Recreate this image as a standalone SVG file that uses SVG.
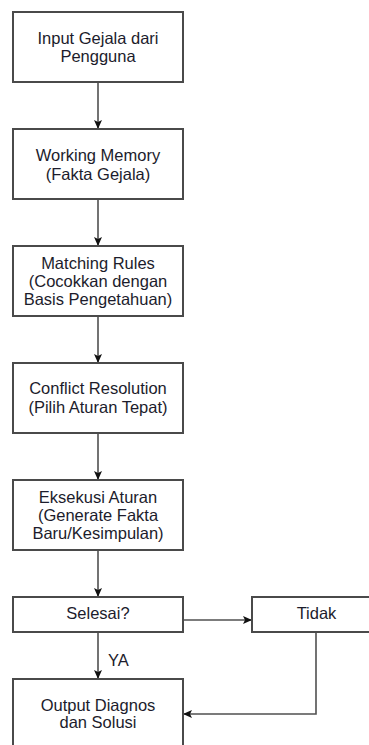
<svg xmlns="http://www.w3.org/2000/svg" width="369" height="745" viewBox="0 0 369 745">
<style>
.box{fill:#fff;stroke:#4a4a4a;stroke-width:2}
.t{font-family:"Liberation Sans",Arial,sans-serif;font-size:16.5px;fill:#1c1c2c;text-anchor:middle}
.c{fill:none;stroke:#505050;stroke-width:1.6}
</style>
<defs>
<marker id="arr" markerUnits="userSpaceOnUse" markerWidth="10" markerHeight="10" viewBox="0 0 10 10" refX="9" refY="5" orient="auto">
<path d="M0,1 L9,5 L0,9 L2,5 z" fill="#111"/>
</marker>
</defs>
<rect width="369" height="745" fill="#fff"/>
<g id="connectors">
<path class="c" d="M98,82 V129" marker-end="url(#arr)"/>
<path class="c" d="M98,199 V246" marker-end="url(#arr)"/>
<path class="c" d="M98,316 V363" marker-end="url(#arr)"/>
<path class="c" d="M98,433 V480" marker-end="url(#arr)"/>
<path class="c" d="M98,550 V597" marker-end="url(#arr)"/>
<path class="c" d="M183,620 H252" marker-end="url(#arr)"/>
<path class="c" d="M98,632 V679" marker-end="url(#arr)"/>
<path class="c" d="M316,632 V714 H183" marker-end="url(#arr)"/>
<text class="t" x="108" y="666" style="text-anchor:start">YA</text>
</g>
<g id="n1">
<rect class="box" x="13" y="12" width="170" height="70"/>
<text class="t" x="98" y="44">Input Gejala dari</text>
<text class="t" x="98" y="62">Pengguna</text>
</g>
<g id="n2">
<rect class="box" x="13" y="129" width="170" height="70"/>
<text class="t" x="98" y="161">Working Memory</text>
<text class="t" x="98" y="180">(Fakta Gejala)</text>
</g>
<g id="n3">
<rect class="box" x="13" y="246" width="170" height="70"/>
<text class="t" x="98" y="269">Matching Rules</text>
<text class="t" x="98" y="287">(Cocokkan dengan</text>
<text class="t" x="98" y="305">Basis Pengetahuan)</text>
</g>
<g id="n4">
<rect class="box" x="13" y="363" width="170" height="70"/>
<text class="t" x="98" y="394">Conflict Resolution</text>
<text class="t" x="98" y="413">(Pilih Aturan Tepat)</text>
</g>
<g id="n5">
<rect class="box" x="13" y="480" width="170" height="70"/>
<text class="t" x="98" y="503">Eksekusi Aturan</text>
<text class="t" x="98" y="521">(Generate Fakta</text>
<text class="t" x="98" y="539">Baru/Kesimpulan)</text>
</g>
<g id="n6">
<rect class="box" x="13" y="597" width="170" height="35"/>
<text class="t" x="98" y="619">Selesai?</text>
</g>
<g id="n7">
<rect class="box" x="252" y="597" width="129" height="35"/>
<text class="t" x="316.5" y="619">Tidak</text>
</g>
<g id="n8">
<rect class="box" x="13" y="679" width="170" height="70"/>
<text class="t" x="98" y="711">Output Diagnos</text>
<text class="t" x="98" y="728">dan Solusi</text>
</g>
</svg>
